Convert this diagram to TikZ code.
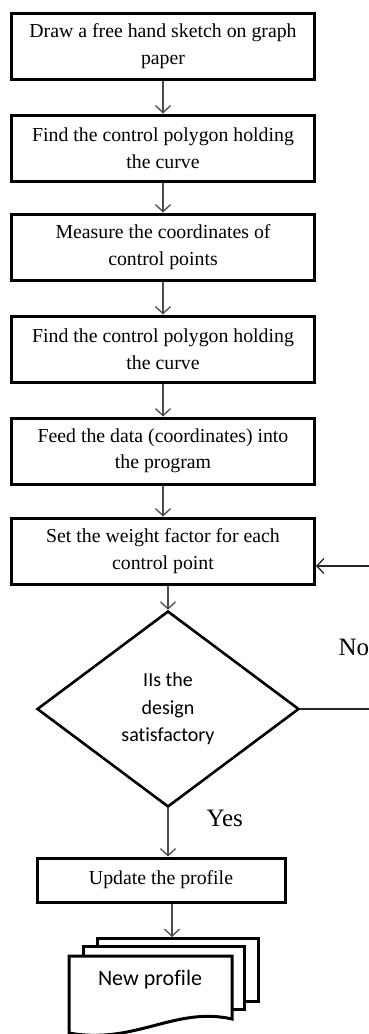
\documentclass[tikz,border=0pt]{standalone}
\usepackage{fontspec}
\setmainfont{Liberation Serif}
\newfontfamily\calfont[Ligatures=NoCommon]{Carlito}
\usetikzlibrary{arrows.meta,shapes.geometric,positioning,calc}

\begin{document}
\begin{tikzpicture}[x=1pt,y=1pt,
  stepbox/.style={draw,line width=3pt,minimum width=303pt,minimum height=66pt,align=center,inner sep=2pt,font=\fontsize{19.8}{26.5}\selectfont},
  flow/.style={-{Straight Barb[length=7pt,width=15pt]},line width=1.3pt,draw=black!70},
  page/.style={draw,line width=3pt,fill=white,minimum width=161pt,minimum height=63pt}]
\useasboundingbox (0,0) rectangle (368,-1034);

\node[stepbox] (sketch) at (163,-46) {Draw a free hand sketch on graph\\paper};
\node[stepbox] (polyA) at (163,-148) {Find the control polygon holding\\the curve};
\node[stepbox] (measure) at (163,-247) {Measure the coordinates of\\control points};
\node[stepbox] (polyB) at (163,-349) {Find the control polygon holding\\the curve};
\node[stepbox] (feed) at (163,-451) {Feed the data (coordinates) into\\the program};
\node[stepbox] (weight) at (163,-551) {Set the weight factor for each\\control point};
\node[draw,diamond,line width=2.6pt,minimum width=262pt,minimum height=196pt,inner sep=0pt,align=center,font=\calfont\fontsize{20}{27.5}\selectfont] (check) at (168,-709) {IIs the\\design\\satisfactory};
\node[stepbox,minimum width=248pt,minimum height=44pt] (update) at (161,-880) {Update the profile};

% stacked output pages
\node[page] (back) at (178,-970) {};
\node[page] (middle) at (164,-978) {};
\draw[line width=3pt,fill=white] (69,-956) -- (232,-956) -- (232,-1019)
  .. controls (175,-1006) and (135,-1045) .. (69,-1033) -- cycle;
\node[font=\calfont\fontsize{22}{26}\selectfont] (newprof) at (150,-980) {New profile};

\node[anchor=west,font=\fontsize{25}{30}\selectfont] (yes) at (203,-818) {Yes};
\node[anchor=west,font=\fontsize{25}{30}\selectfont] (no) at (335,-647) {No};

\coordinate (loopR) at (372,-709);
\coordinate (loopT) at (372,-566);

\draw[flow] (sketch) -- (polyA);
\draw[flow] (polyA) -- (measure);
\draw[flow] (measure) -- (polyB);
\draw[flow] (polyB) -- (feed);
\draw[flow] (feed) -- (weight);
\draw[flow] (weight.south -| check.north) -- (check.north);
\draw[flow] (check.south) -- (check.south |- update.north);
\draw[flow] ([xshift=11pt]update.south) -- ([xshift=11pt]update.south |- back.north);
\draw[flow,draw=black!85] (check.east) -- (loopR) -- (loopT) -- (loopT -| weight.east);
\end{tikzpicture}
\end{document}
